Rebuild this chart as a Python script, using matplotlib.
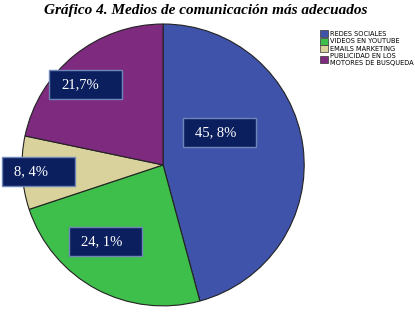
import matplotlib.pyplot as plt
from matplotlib.patches import Rectangle

categorias = ["REDES SOCIALES", "VIDEOS EN YOUTUBE", "EMAILS MARKETING",
              "PUBLICIDAD EN LOS\nMOTORES DE BUSQUEDA"]
valores = [45.8, 24.1, 8.4, 21.7]
etiquetas = ["45, 8%", "24, 1%", "8, 4%", "21,7%"]
colores = ["#3F53AB", "#3EBE4A", "#D9D29C", "#7D2A7F"]

W, H = 415, 316
fig = plt.figure(figsize=(4.15, 3.16), dpi=100)
fig.text(0.495, 0.968, "Gráfico 4. Medios de comunicación más adecuados",
         ha="center", va="center", fontsize=11, fontweight="bold",
         fontstyle="italic", family="Liberation Serif")

ax = fig.add_axes([0.053, 0.032, 0.680, 0.892])
wedges, _ = ax.pie(valores, colors=colores, startangle=90, counterclock=False,
                   wedgeprops=dict(edgecolor="#222222", linewidth=0.8))
ax.set_aspect("auto")
ax.set_xlim(-1.0, 1.0)
ax.set_ylim(-1.0, 1.0)

# cajas de etiquetas: (x0, y0 desde arriba) en pixeles
cajas = [(183, 118), (69, 227), (2, 157), (49, 70)]
bw, bh = 73, 29
for (x0, y0), t in zip(cajas, etiquetas):
    r = Rectangle((x0 / W, 1 - (y0 + bh) / H), bw / W, bh / H,
                  transform=fig.transFigure, facecolor="#0B1F5E",
                  edgecolor="#6E86B8", linewidth=1, zorder=5)
    fig.patches.append(r)
    fig.text((x0 + 12) / W, 1 - (y0 + bh / 2) / H, t, ha="left", va="center",
             fontsize=10.5, color="white", family="Liberation Serif", zorder=6)

leg = fig.legend(wedges, categorias, loc="upper left",
                 bbox_to_anchor=(0.762, 0.915), frameon=False, fontsize=4.8,
                 handlelength=1.3, handleheight=1.2, handletextpad=0.3,
                 labelspacing=0.1, borderpad=0)
for h in leg.legend_handles:
    h.set_edgecolor("#333333")
    h.set_linewidth(0.5)

plt.savefig("out.png", dpi=100)
